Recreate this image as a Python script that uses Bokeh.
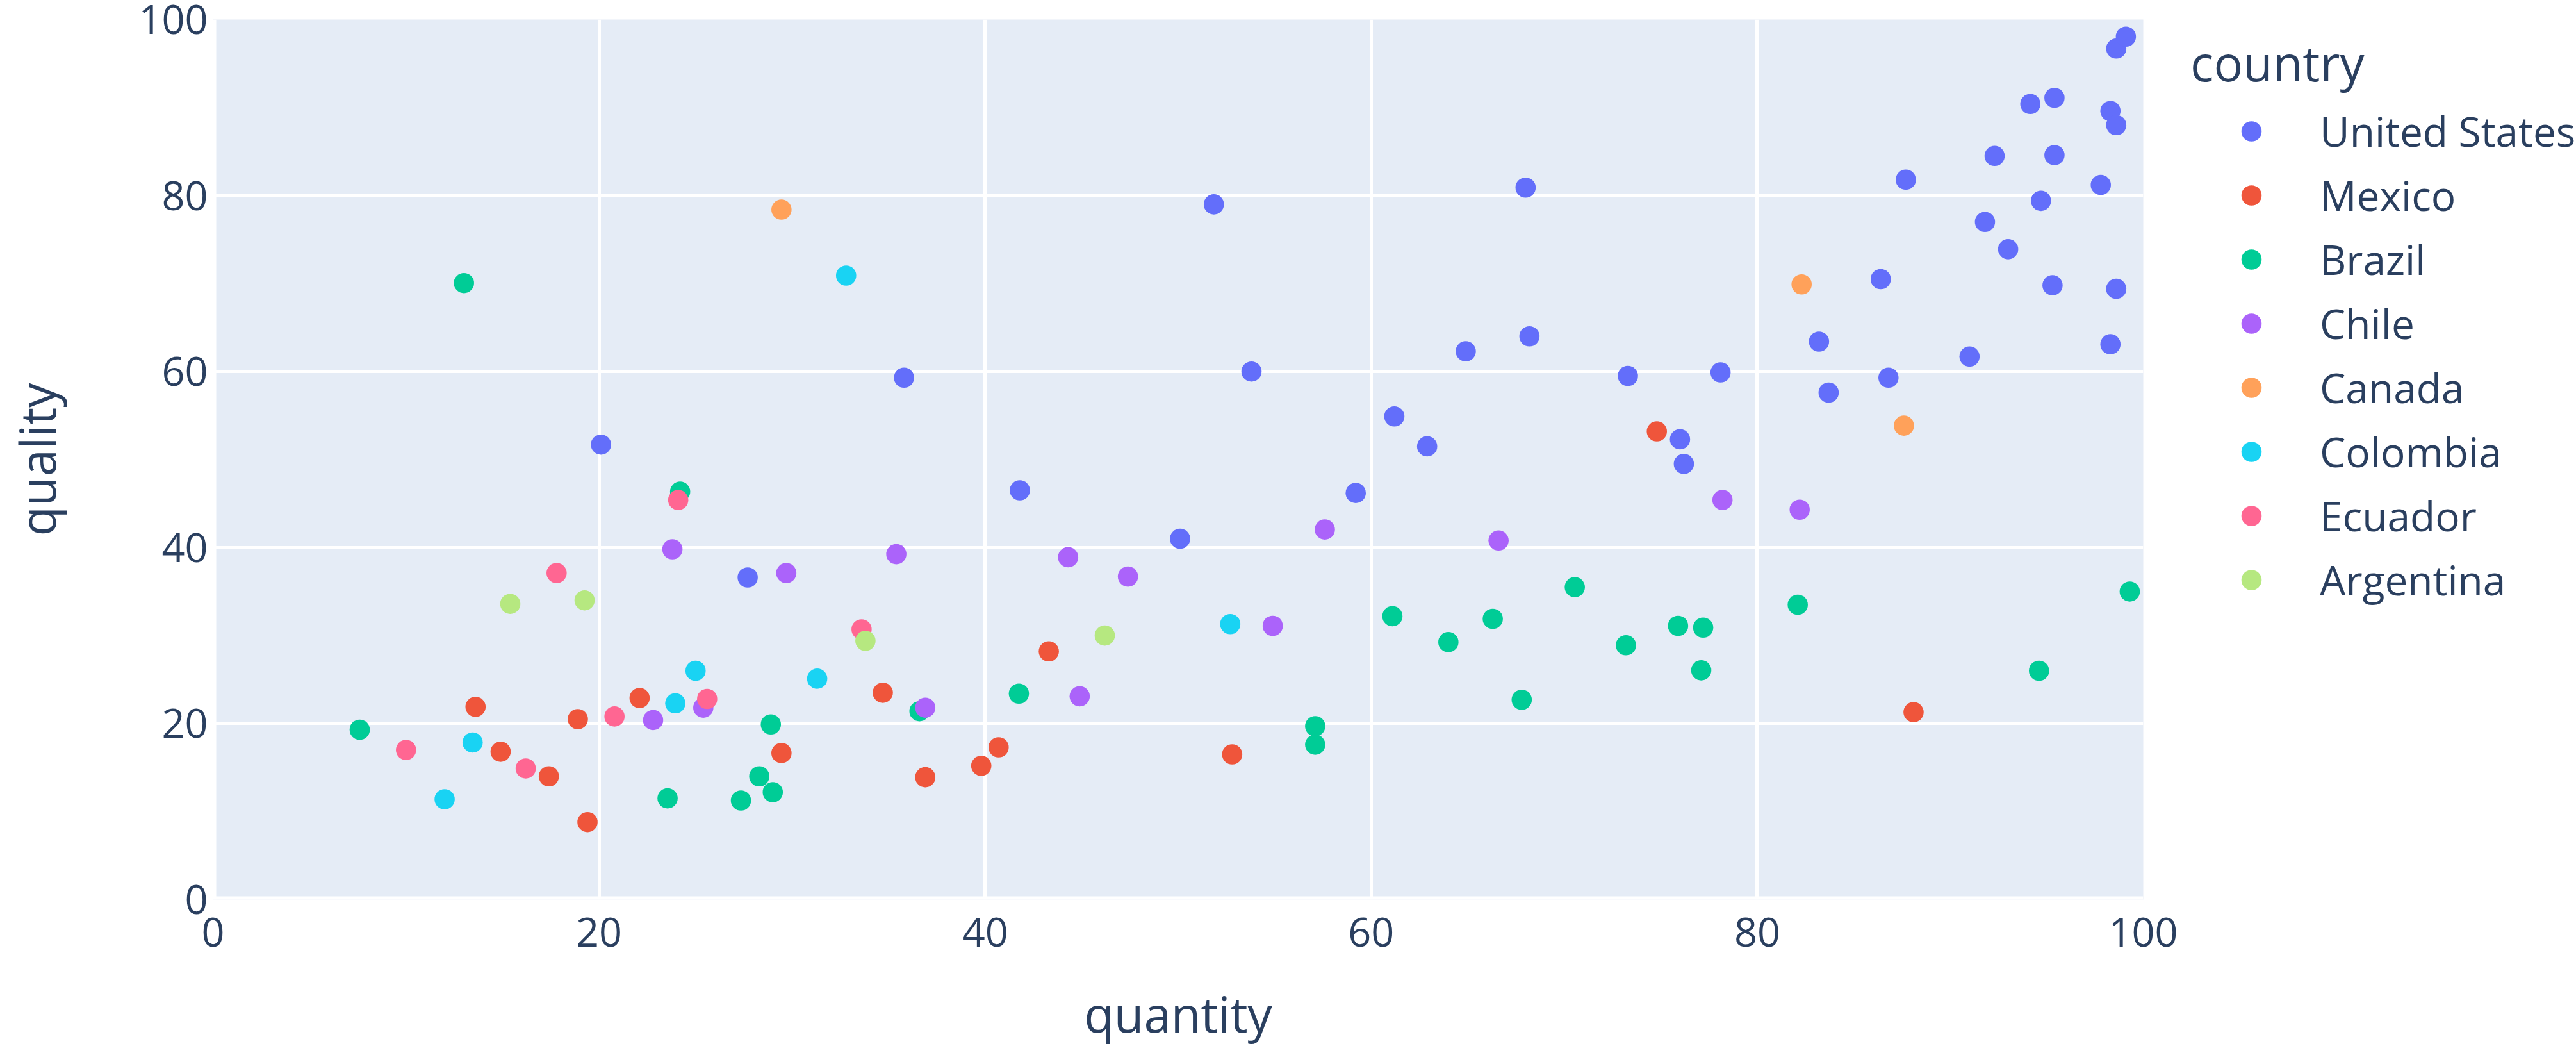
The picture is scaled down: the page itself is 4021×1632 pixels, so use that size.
from bokeh.plotting import figure
from bokeh.models import Range1d, FixedTicker, Legend, LegendItem, Span
from bokeh.embed import file_html
from bokeh.resources import INLINE

countries = ["United States", "Mexico", "Brazil", "Chile", "Canada", "Colombia", "Ecuador", "Argentina"]
colors = ["#636efa", "#EF553B", "#00cc96", "#ab63fa", "#FFA15A", "#19d3f3", "#FF6692", "#B6E880"]

us_quantity = [20.1, 27.7, 35.8, 41.8, 50.1, 51.85, 53.8, 59.2, 61.2, 62.9, 64.9, 68.0, 68.2, 73.3, 76.0, 76.2,
               78.1, 83.2, 83.7, 86.4, 86.8, 87.7, 91.0, 91.8, 92.3, 93.0, 94.15, 94.7, 95.3, 95.4, 95.4, 97.8,
               98.3, 98.3, 98.6, 98.6, 98.6, 99.1]
us_quality = [51.7, 36.6, 59.3, 46.5, 41.0, 79.0, 60.0, 46.2, 54.9, 51.5, 62.3, 80.9, 64.0, 59.5, 52.3, 49.5,
              59.9, 63.4, 57.6, 70.5, 59.3, 81.8, 61.7, 77.0, 84.5, 73.9, 90.4, 79.4, 69.8, 84.6, 91.1, 81.2,
              63.1, 89.6, 96.7, 88.0, 69.4, 98.05]

mexico_quantity = [13.6, 14.9, 17.4, 18.9, 19.4, 22.1, 29.45, 34.7, 36.9, 39.8, 40.7, 43.3, 52.8, 74.8, 88.1]
mexico_quality = [21.9, 16.8, 14.0, 20.5, 8.8, 22.9, 16.65, 23.5, 13.9, 15.2, 17.3, 28.2, 16.5, 53.2, 21.3]

brazil_quantity = [13.0, 24.2, 7.6, 23.55, 27.35, 28.3, 29.0, 28.9, 36.6, 41.75, 57.1, 57.1, 61.1, 64.0, 66.3,
                   70.55, 67.8, 73.2, 75.9, 77.2, 77.1, 82.1, 99.3, 94.6]
brazil_quality = [70.05, 46.35, 19.3, 11.5, 11.25, 14.0, 12.2, 19.9, 21.4, 23.4, 19.7, 17.6, 32.2, 29.25, 31.9,
                  35.5, 22.7, 28.9, 31.1, 30.9, 26.05, 33.5, 35.0, 26.0]

chile_quantity = [23.8, 29.7, 22.8, 25.4, 35.4, 44.3, 47.4, 44.9, 36.9, 54.9, 57.6, 66.6, 78.2, 82.2]
chile_quality = [39.8, 37.1, 20.4, 21.8, 39.25, 38.9, 36.7, 23.1, 21.8, 31.1, 42.05, 40.8, 45.4, 44.3]

canada_quantity = [29.45, 82.3, 87.6]
canada_quality = [78.4, 69.9, 53.85]

colombia_quantity = [32.8, 12.0, 13.45, 23.95, 25.0, 31.3, 52.7]
colombia_quality = [70.9, 11.4, 17.85, 22.3, 26.0, 25.1, 31.3]

ecuador_quantity = [10.0, 16.2, 17.8, 20.8, 25.6, 33.6, 24.1]
ecuador_quality = [17.0, 14.9, 37.1, 20.8, 22.8, 30.7, 45.4]

argentina_quantity = [15.4, 19.25, 33.8, 46.2]
argentina_quality = [33.6, 34.0, 29.4, 30.0]

x_ticks = [0, 20, 40, 60, 80, 100]
y_ticks = [0, 20, 40, 60, 80, 100]

series = [
    (us_quantity, us_quality),
    (mexico_quantity, mexico_quality),
    (brazil_quantity, brazil_quality),
    (chile_quantity, chile_quality),
    (canada_quantity, canada_quality),
    (colombia_quantity, colombia_quality),
    (ecuador_quantity, ecuador_quality),
    (argentina_quantity, argentina_quality),
]

FONT = "Open Sans"
TXT = "#2a3f5f"

p = figure(frame_width=3013, frame_height=1373,
           min_border_left=332, min_border_top=30, min_border_right=676, min_border_bottom=229,
           x_range=Range1d(0, 100), y_range=Range1d(0, 100),
           output_backend="svg", toolbar_location=None)
p.background_fill_color = "#E5ECF6"
p.border_fill_color = "white"
p.outline_line_color = None

for ax, ticks in ((p.xaxis[0], x_ticks), (p.yaxis[0], y_ticks)):
    ax.ticker = FixedTicker(ticks=ticks)
    ax.axis_line_color = None
    ax.major_tick_line_color = None
    ax.minor_tick_line_color = None
    ax.major_tick_out = 0
    ax.major_tick_in = 0
    ax.minor_tick_out = 0
    ax.minor_tick_in = 0
    ax.major_label_text_font = FONT
    ax.major_label_text_font_size = "63px"
    ax.major_label_text_color = TXT
    ax.axis_label_text_font = FONT
    ax.axis_label_text_font_size = "76px"
    ax.axis_label_text_font_style = "normal"
    ax.axis_label_text_color = TXT

p.xaxis[0].major_label_standoff = 28
p.yaxis[0].major_label_standoff = 8
p.xaxis[0].axis_label = "quantity"
p.yaxis[0].axis_label = "quality"
p.xaxis[0].axis_label_standoff = 50
p.yaxis[0].axis_label_standoff = 104

for g in (p.xgrid[0], p.ygrid[0]):
    g.ticker = FixedTicker(ticks=x_ticks)
    g.grid_line_color = "white"
    g.grid_line_width = 5

p.add_layout(Span(location=0, dimension="height", line_color="white", line_width=10, level="underlay"))
p.add_layout(Span(location=0, dimension="width", line_color="white", line_width=10, level="underlay"))

items = []
for name, col, (xs, ys) in zip(countries, colors, series):
    r = p.scatter(xs, ys, size=31.6, fill_color=col, line_color=None)
    items.append(LegendItem(label=name, renderers=[r]))

legend = Legend(items=items, location=(74, 449), orientation="vertical",
                title="country", title_text_font=FONT, title_text_font_size="76px",
                title_text_font_style="normal", title_text_color=TXT, title_standoff=5,
                glyph_width=190, glyph_height=79, label_height=100, spacing=0,
                padding=0, margin=0, label_standoff=12,
                label_text_font=FONT, label_text_font_size="64px", label_text_color=TXT,
                background_fill_alpha=0, border_line_alpha=0)
p.add_layout(legend, "right")

open("out.html", "w").write(file_html(p, INLINE))
